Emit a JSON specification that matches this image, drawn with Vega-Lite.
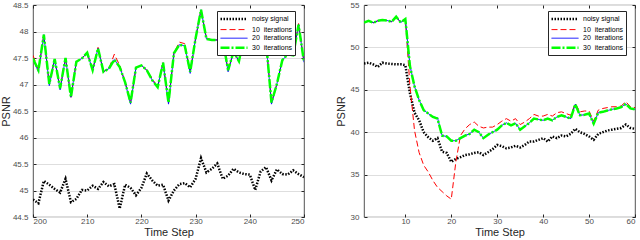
{
  "$schema": "https://vega.github.io/schema/vega-lite/v6.json",
  "padding": {"left": 0, "top": 0, "right": 0, "bottom": 0},
  "spacing": 29,
  "resolve": {
    "scale": {"color": "independent", "strokeDash": "independent", "strokeWidth": "independent"},
    "legend": {"color": "independent", "strokeDash": "independent", "strokeWidth": "independent"}
  },
  "datasets": {
    "left": [
      {"t":200,"s":"noisy signal","v":44.83},{"t":201,"s":"noisy signal","v":44.76},{"t":202,"s":"noisy signal","v":45.18},{"t":203,"s":"noisy signal","v":45.11},{"t":204,"s":"noisy signal","v":45.03},{"t":205,"s":"noisy signal","v":44.96},{"t":206,"s":"noisy signal","v":45.22},{"t":207,"s":"noisy signal","v":44.78},{"t":208,"s":"noisy signal","v":44.84},{"t":209,"s":"noisy signal","v":45.01},{"t":210,"s":"noisy signal","v":45.0},{"t":211,"s":"noisy signal","v":45.09},{"t":212,"s":"noisy signal","v":45.03},{"t":213,"s":"noisy signal","v":45.16},{"t":214,"s":"noisy signal","v":45.08},{"t":215,"s":"noisy signal","v":45.12},{"t":216,"s":"noisy signal","v":44.66},{"t":217,"s":"noisy signal","v":45.11},{"t":218,"s":"noisy signal","v":45.05},{"t":219,"s":"noisy signal","v":44.91},{"t":220,"s":"noisy signal","v":45.05},{"t":221,"s":"noisy signal","v":45.32},{"t":222,"s":"noisy signal","v":45.19},{"t":223,"s":"noisy signal","v":45.09},{"t":224,"s":"noisy signal","v":45.11},{"t":225,"s":"noisy signal","v":44.81},{"t":226,"s":"noisy signal","v":45.0},{"t":227,"s":"noisy signal","v":45.12},{"t":228,"s":"noisy signal","v":45.14},{"t":229,"s":"noisy signal","v":45.06},{"t":230,"s":"noisy signal","v":45.22},{"t":231,"s":"noisy signal","v":45.61},{"t":232,"s":"noisy signal","v":45.34},{"t":233,"s":"noisy signal","v":45.41},{"t":234,"s":"noisy signal","v":45.51},{"t":235,"s":"noisy signal","v":45.22},{"t":236,"s":"noisy signal","v":45.28},{"t":237,"s":"noisy signal","v":45.41},{"t":238,"s":"noisy signal","v":45.34},{"t":239,"s":"noisy signal","v":45.31},{"t":240,"s":"noisy signal","v":45.3},{"t":241,"s":"noisy signal","v":45.01},{"t":242,"s":"noisy signal","v":45.36},{"t":243,"s":"noisy signal","v":45.44},{"t":244,"s":"noisy signal","v":45.19},{"t":245,"s":"noisy signal","v":45.4},{"t":246,"s":"noisy signal","v":45.31},{"t":247,"s":"noisy signal","v":45.3},{"t":248,"s":"noisy signal","v":45.38},{"t":249,"s":"noisy signal","v":45.31},{"t":250,"s":"noisy signal","v":45.25},
      {"t":200,"s":"10\u00a0 iterations","v":47.55},{"t":201,"s":"10\u00a0 iterations","v":47.27},{"t":202,"s":"10\u00a0 iterations","v":47.94},{"t":203,"s":"10\u00a0 iterations","v":47.01},{"t":204,"s":"10\u00a0 iterations","v":47.48},{"t":205,"s":"10\u00a0 iterations","v":46.93},{"t":206,"s":"10\u00a0 iterations","v":47.5},{"t":207,"s":"10\u00a0 iterations","v":46.76},{"t":208,"s":"10\u00a0 iterations","v":47.43},{"t":209,"s":"10\u00a0 iterations","v":47.49},{"t":210,"s":"10\u00a0 iterations","v":47.6},{"t":211,"s":"10\u00a0 iterations","v":47.27},{"t":212,"s":"10\u00a0 iterations","v":47.7},{"t":213,"s":"10\u00a0 iterations","v":47.24},{"t":214,"s":"10\u00a0 iterations","v":47.3},{"t":215,"s":"10\u00a0 iterations","v":47.57},{"t":216,"s":"10\u00a0 iterations","v":47.36},{"t":217,"s":"10\u00a0 iterations","v":47.04},{"t":218,"s":"10\u00a0 iterations","v":46.66},{"t":219,"s":"10\u00a0 iterations","v":47.32},{"t":220,"s":"10\u00a0 iterations","v":47.36},{"t":221,"s":"10\u00a0 iterations","v":47.27},{"t":222,"s":"10\u00a0 iterations","v":47.11},{"t":223,"s":"10\u00a0 iterations","v":46.95},{"t":224,"s":"10\u00a0 iterations","v":47.41},{"t":225,"s":"10\u00a0 iterations","v":46.66},{"t":226,"s":"10\u00a0 iterations","v":47.59},{"t":227,"s":"10\u00a0 iterations","v":47.8},{"t":228,"s":"10\u00a0 iterations","v":47.77},{"t":229,"s":"10\u00a0 iterations","v":47.24},{"t":230,"s":"10\u00a0 iterations","v":47.87},{"t":231,"s":"10\u00a0 iterations","v":48.41},{"t":232,"s":"10\u00a0 iterations","v":47.88},{"t":233,"s":"10\u00a0 iterations","v":47.84},{"t":234,"s":"10\u00a0 iterations","v":47.84},{"t":235,"s":"10\u00a0 iterations","v":47.85},{"t":236,"s":"10\u00a0 iterations","v":47.27},{"t":237,"s":"10\u00a0 iterations","v":47.62},{"t":238,"s":"10\u00a0 iterations","v":47.44},{"t":239,"s":"10\u00a0 iterations","v":47.95},{"t":240,"s":"10\u00a0 iterations","v":48.0},{"t":241,"s":"10\u00a0 iterations","v":47.9},{"t":242,"s":"10\u00a0 iterations","v":48.05},{"t":243,"s":"10\u00a0 iterations","v":47.8},{"t":244,"s":"10\u00a0 iterations","v":46.66},{"t":245,"s":"10\u00a0 iterations","v":47.01},{"t":246,"s":"10\u00a0 iterations","v":47.46},{"t":247,"s":"10\u00a0 iterations","v":47.57},{"t":248,"s":"10\u00a0 iterations","v":47.55},{"t":249,"s":"10\u00a0 iterations","v":48.15},{"t":250,"s":"10\u00a0 iterations","v":47.42},
      {"t":200,"s":"20\u00a0 iterations","v":47.49},{"t":201,"s":"20\u00a0 iterations","v":47.24},{"t":202,"s":"20\u00a0 iterations","v":47.94},{"t":203,"s":"20\u00a0 iterations","v":46.98},{"t":204,"s":"20\u00a0 iterations","v":47.48},{"t":205,"s":"20\u00a0 iterations","v":46.9},{"t":206,"s":"20\u00a0 iterations","v":47.5},{"t":207,"s":"20\u00a0 iterations","v":46.76},{"t":208,"s":"20\u00a0 iterations","v":47.43},{"t":209,"s":"20\u00a0 iterations","v":47.49},{"t":210,"s":"20\u00a0 iterations","v":47.6},{"t":211,"s":"20\u00a0 iterations","v":47.27},{"t":212,"s":"20\u00a0 iterations","v":47.68},{"t":213,"s":"20\u00a0 iterations","v":47.24},{"t":214,"s":"20\u00a0 iterations","v":47.3},{"t":215,"s":"20\u00a0 iterations","v":47.47},{"t":216,"s":"20\u00a0 iterations","v":47.33},{"t":217,"s":"20\u00a0 iterations","v":47.04},{"t":218,"s":"20\u00a0 iterations","v":46.63},{"t":219,"s":"20\u00a0 iterations","v":47.32},{"t":220,"s":"20\u00a0 iterations","v":47.36},{"t":221,"s":"20\u00a0 iterations","v":47.27},{"t":222,"s":"20\u00a0 iterations","v":47.08},{"t":223,"s":"20\u00a0 iterations","v":46.95},{"t":224,"s":"20\u00a0 iterations","v":47.41},{"t":225,"s":"20\u00a0 iterations","v":46.63},{"t":226,"s":"20\u00a0 iterations","v":47.59},{"t":227,"s":"20\u00a0 iterations","v":47.75},{"t":228,"s":"20\u00a0 iterations","v":47.73},{"t":229,"s":"20\u00a0 iterations","v":47.21},{"t":230,"s":"20\u00a0 iterations","v":47.87},{"t":231,"s":"20\u00a0 iterations","v":48.41},{"t":232,"s":"20\u00a0 iterations","v":47.86},{"t":233,"s":"20\u00a0 iterations","v":47.84},{"t":234,"s":"20\u00a0 iterations","v":47.84},{"t":235,"s":"20\u00a0 iterations","v":47.85},{"t":236,"s":"20\u00a0 iterations","v":47.24},{"t":237,"s":"20\u00a0 iterations","v":47.62},{"t":238,"s":"20\u00a0 iterations","v":47.44},{"t":239,"s":"20\u00a0 iterations","v":47.95},{"t":240,"s":"20\u00a0 iterations","v":48.0},{"t":241,"s":"20\u00a0 iterations","v":47.9},{"t":242,"s":"20\u00a0 iterations","v":48.05},{"t":243,"s":"20\u00a0 iterations","v":47.8},{"t":244,"s":"20\u00a0 iterations","v":46.63},{"t":245,"s":"20\u00a0 iterations","v":47.01},{"t":246,"s":"20\u00a0 iterations","v":47.46},{"t":247,"s":"20\u00a0 iterations","v":47.57},{"t":248,"s":"20\u00a0 iterations","v":47.55},{"t":249,"s":"20\u00a0 iterations","v":48.13},{"t":250,"s":"20\u00a0 iterations","v":47.42},
      {"t":200,"s":"30\u00a0 iterations","v":47.49},{"t":201,"s":"30\u00a0 iterations","v":47.27},{"t":202,"s":"30\u00a0 iterations","v":47.94},{"t":203,"s":"30\u00a0 iterations","v":47.01},{"t":204,"s":"30\u00a0 iterations","v":47.48},{"t":205,"s":"30\u00a0 iterations","v":46.93},{"t":206,"s":"30\u00a0 iterations","v":47.5},{"t":207,"s":"30\u00a0 iterations","v":46.76},{"t":208,"s":"30\u00a0 iterations","v":47.43},{"t":209,"s":"30\u00a0 iterations","v":47.49},{"t":210,"s":"30\u00a0 iterations","v":47.6},{"t":211,"s":"30\u00a0 iterations","v":47.27},{"t":212,"s":"30\u00a0 iterations","v":47.68},{"t":213,"s":"30\u00a0 iterations","v":47.24},{"t":214,"s":"30\u00a0 iterations","v":47.3},{"t":215,"s":"30\u00a0 iterations","v":47.47},{"t":216,"s":"30\u00a0 iterations","v":47.33},{"t":217,"s":"30\u00a0 iterations","v":47.04},{"t":218,"s":"30\u00a0 iterations","v":46.66},{"t":219,"s":"30\u00a0 iterations","v":47.32},{"t":220,"s":"30\u00a0 iterations","v":47.36},{"t":221,"s":"30\u00a0 iterations","v":47.27},{"t":222,"s":"30\u00a0 iterations","v":47.08},{"t":223,"s":"30\u00a0 iterations","v":46.95},{"t":224,"s":"30\u00a0 iterations","v":47.41},{"t":225,"s":"30\u00a0 iterations","v":46.66},{"t":226,"s":"30\u00a0 iterations","v":47.59},{"t":227,"s":"30\u00a0 iterations","v":47.75},{"t":228,"s":"30\u00a0 iterations","v":47.73},{"t":229,"s":"30\u00a0 iterations","v":47.24},{"t":230,"s":"30\u00a0 iterations","v":47.87},{"t":231,"s":"30\u00a0 iterations","v":48.41},{"t":232,"s":"30\u00a0 iterations","v":47.86},{"t":233,"s":"30\u00a0 iterations","v":47.84},{"t":234,"s":"30\u00a0 iterations","v":47.84},{"t":235,"s":"30\u00a0 iterations","v":47.85},{"t":236,"s":"30\u00a0 iterations","v":47.27},{"t":237,"s":"30\u00a0 iterations","v":47.62},{"t":238,"s":"30\u00a0 iterations","v":47.44},{"t":239,"s":"30\u00a0 iterations","v":47.95},{"t":240,"s":"30\u00a0 iterations","v":48.0},{"t":241,"s":"30\u00a0 iterations","v":47.9},{"t":242,"s":"30\u00a0 iterations","v":48.05},{"t":243,"s":"30\u00a0 iterations","v":47.8},{"t":244,"s":"30\u00a0 iterations","v":46.66},{"t":245,"s":"30\u00a0 iterations","v":47.01},{"t":246,"s":"30\u00a0 iterations","v":47.46},{"t":247,"s":"30\u00a0 iterations","v":47.57},{"t":248,"s":"30\u00a0 iterations","v":47.55},{"t":249,"s":"30\u00a0 iterations","v":48.13},{"t":250,"s":"30\u00a0 iterations","v":47.42}
    ],
    "right": [
      {"t":1,"s":"noisy signal","v":48.1},{"t":2,"s":"noisy signal","v":48.2},{"t":3,"s":"noisy signal","v":48.0},{"t":4,"s":"noisy signal","v":47.7},{"t":5,"s":"noisy signal","v":48.2},{"t":6,"s":"noisy signal","v":48.1},{"t":7,"s":"noisy signal","v":48.05},{"t":8,"s":"noisy signal","v":48.0},{"t":9,"s":"noisy signal","v":48.0},{"t":10,"s":"noisy signal","v":47.9},{"t":11,"s":"noisy signal","v":44.6},{"t":12,"s":"noisy signal","v":42.3},{"t":13,"s":"noisy signal","v":41.4},{"t":14,"s":"noisy signal","v":40.0},{"t":15,"s":"noisy signal","v":39.4},{"t":16,"s":"noisy signal","v":39.0},{"t":17,"s":"noisy signal","v":39.3},{"t":18,"s":"noisy signal","v":37.7},{"t":19,"s":"noisy signal","v":37.56},{"t":20,"s":"noisy signal","v":36.5},{"t":21,"s":"noisy signal","v":36.85},{"t":22,"s":"noisy signal","v":37.05},{"t":23,"s":"noisy signal","v":37.3},{"t":24,"s":"noisy signal","v":37.4},{"t":25,"s":"noisy signal","v":37.56},{"t":26,"s":"noisy signal","v":37.64},{"t":27,"s":"noisy signal","v":37.3},{"t":28,"s":"noisy signal","v":37.64},{"t":29,"s":"noisy signal","v":38.0},{"t":30,"s":"noisy signal","v":38.5},{"t":31,"s":"noisy signal","v":38.35},{"t":32,"s":"noisy signal","v":38.1},{"t":33,"s":"noisy signal","v":38.2},{"t":34,"s":"noisy signal","v":38.4},{"t":35,"s":"noisy signal","v":38.2},{"t":36,"s":"noisy signal","v":38.5},{"t":37,"s":"noisy signal","v":38.9},{"t":38,"s":"noisy signal","v":38.9},{"t":39,"s":"noisy signal","v":39.1},{"t":40,"s":"noisy signal","v":39.3},{"t":41,"s":"noisy signal","v":38.9},{"t":42,"s":"noisy signal","v":39.5},{"t":43,"s":"noisy signal","v":39.3},{"t":44,"s":"noisy signal","v":39.6},{"t":45,"s":"noisy signal","v":39.5},{"t":46,"s":"noisy signal","v":39.8},{"t":47,"s":"noisy signal","v":40.4},{"t":48,"s":"noisy signal","v":40.0},{"t":49,"s":"noisy signal","v":39.8},{"t":50,"s":"noisy signal","v":39.5},{"t":51,"s":"noisy signal","v":39.1},{"t":52,"s":"noisy signal","v":39.8},{"t":53,"s":"noisy signal","v":40.0},{"t":54,"s":"noisy signal","v":40.2},{"t":55,"s":"noisy signal","v":40.3},{"t":56,"s":"noisy signal","v":40.4},{"t":57,"s":"noisy signal","v":40.5},{"t":58,"s":"noisy signal","v":40.9},{"t":59,"s":"noisy signal","v":40.5},{"t":60,"s":"noisy signal","v":40.4},
      {"t":1,"s":"10\u00a0 iterations","v":52.94},{"t":2,"s":"10\u00a0 iterations","v":53.14},{"t":3,"s":"10\u00a0 iterations","v":52.9},{"t":4,"s":"10\u00a0 iterations","v":53.14},{"t":5,"s":"10\u00a0 iterations","v":53.22},{"t":6,"s":"10\u00a0 iterations","v":53.18},{"t":7,"s":"10\u00a0 iterations","v":53.02},{"t":8,"s":"10\u00a0 iterations","v":53.61},{"t":9,"s":"10\u00a0 iterations","v":52.94},{"t":10,"s":"10\u00a0 iterations","v":53.34},{"t":11,"s":"10\u00a0 iterations","v":45.5},{"t":12,"s":"10\u00a0 iterations","v":40.2},{"t":13,"s":"10\u00a0 iterations","v":37.6},{"t":14,"s":"10\u00a0 iterations","v":36.1},{"t":15,"s":"10\u00a0 iterations","v":35.3},{"t":16,"s":"10\u00a0 iterations","v":34.3},{"t":17,"s":"10\u00a0 iterations","v":33.5},{"t":18,"s":"10\u00a0 iterations","v":33.0},{"t":19,"s":"10\u00a0 iterations","v":32.5},{"t":20,"s":"10\u00a0 iterations","v":32.1},{"t":21,"s":"10\u00a0 iterations","v":36.5},{"t":22,"s":"10\u00a0 iterations","v":39.6},{"t":23,"s":"10\u00a0 iterations","v":40.4},{"t":24,"s":"10\u00a0 iterations","v":40.9},{"t":25,"s":"10\u00a0 iterations","v":41.2},{"t":26,"s":"10\u00a0 iterations","v":40.7},{"t":27,"s":"10\u00a0 iterations","v":40.5},{"t":28,"s":"10\u00a0 iterations","v":40.6},{"t":29,"s":"10\u00a0 iterations","v":40.6},{"t":30,"s":"10\u00a0 iterations","v":40.9},{"t":31,"s":"10\u00a0 iterations","v":41.3},{"t":32,"s":"10\u00a0 iterations","v":41.6},{"t":33,"s":"10\u00a0 iterations","v":41.3},{"t":34,"s":"10\u00a0 iterations","v":41.6},{"t":35,"s":"10\u00a0 iterations","v":40.9},{"t":36,"s":"10\u00a0 iterations","v":41.2},{"t":37,"s":"10\u00a0 iterations","v":41.6},{"t":38,"s":"10\u00a0 iterations","v":42.1},{"t":39,"s":"10\u00a0 iterations","v":41.9},{"t":40,"s":"10\u00a0 iterations","v":41.9},{"t":41,"s":"10\u00a0 iterations","v":42.1},{"t":42,"s":"10\u00a0 iterations","v":41.9},{"t":43,"s":"10\u00a0 iterations","v":42.3},{"t":44,"s":"10\u00a0 iterations","v":42.4},{"t":45,"s":"10\u00a0 iterations","v":42.2},{"t":46,"s":"10\u00a0 iterations","v":42.0},{"t":47,"s":"10\u00a0 iterations","v":43.4},{"t":48,"s":"10\u00a0 iterations","v":42.4},{"t":49,"s":"10\u00a0 iterations","v":42.5},{"t":50,"s":"10\u00a0 iterations","v":42.5},{"t":51,"s":"10\u00a0 iterations","v":41.3},{"t":52,"s":"10\u00a0 iterations","v":42.6},{"t":53,"s":"10\u00a0 iterations","v":42.8},{"t":54,"s":"10\u00a0 iterations","v":42.9},{"t":55,"s":"10\u00a0 iterations","v":43.0},{"t":56,"s":"10\u00a0 iterations","v":43.0},{"t":57,"s":"10\u00a0 iterations","v":43.1},{"t":58,"s":"10\u00a0 iterations","v":43.6},{"t":59,"s":"10\u00a0 iterations","v":43.0},{"t":60,"s":"10\u00a0 iterations","v":42.9},
      {"t":1,"s":"20\u00a0 iterations","v":52.94},{"t":2,"s":"20\u00a0 iterations","v":53.14},{"t":3,"s":"20\u00a0 iterations","v":52.9},{"t":4,"s":"20\u00a0 iterations","v":53.14},{"t":5,"s":"20\u00a0 iterations","v":53.22},{"t":6,"s":"20\u00a0 iterations","v":53.18},{"t":7,"s":"20\u00a0 iterations","v":53.02},{"t":8,"s":"20\u00a0 iterations","v":53.61},{"t":9,"s":"20\u00a0 iterations","v":52.94},{"t":10,"s":"20\u00a0 iterations","v":53.34},{"t":11,"s":"20\u00a0 iterations","v":47.9},{"t":12,"s":"20\u00a0 iterations","v":45.4},{"t":13,"s":"20\u00a0 iterations","v":43.8},{"t":14,"s":"20\u00a0 iterations","v":42.6},{"t":15,"s":"20\u00a0 iterations","v":42.2},{"t":16,"s":"20\u00a0 iterations","v":41.8},{"t":17,"s":"20\u00a0 iterations","v":41.7},{"t":18,"s":"20\u00a0 iterations","v":39.6},{"t":19,"s":"20\u00a0 iterations","v":39.5},{"t":20,"s":"20\u00a0 iterations","v":39.0},{"t":21,"s":"20\u00a0 iterations","v":39.0},{"t":22,"s":"20\u00a0 iterations","v":39.3},{"t":23,"s":"20\u00a0 iterations","v":39.6},{"t":24,"s":"20\u00a0 iterations","v":39.8},{"t":25,"s":"20\u00a0 iterations","v":40.3},{"t":26,"s":"20\u00a0 iterations","v":40.0},{"t":27,"s":"20\u00a0 iterations","v":39.3},{"t":28,"s":"20\u00a0 iterations","v":39.7},{"t":29,"s":"20\u00a0 iterations","v":40.0},{"t":30,"s":"20\u00a0 iterations","v":40.3},{"t":31,"s":"20\u00a0 iterations","v":40.8},{"t":32,"s":"20\u00a0 iterations","v":41.1},{"t":33,"s":"20\u00a0 iterations","v":40.8},{"t":34,"s":"20\u00a0 iterations","v":41.06},{"t":35,"s":"20\u00a0 iterations","v":40.3},{"t":36,"s":"20\u00a0 iterations","v":40.7},{"t":37,"s":"20\u00a0 iterations","v":41.1},{"t":38,"s":"20\u00a0 iterations","v":41.6},{"t":39,"s":"20\u00a0 iterations","v":41.5},{"t":40,"s":"20\u00a0 iterations","v":41.4},{"t":41,"s":"20\u00a0 iterations","v":41.6},{"t":42,"s":"20\u00a0 iterations","v":41.4},{"t":43,"s":"20\u00a0 iterations","v":41.8},{"t":44,"s":"20\u00a0 iterations","v":42.0},{"t":45,"s":"20\u00a0 iterations","v":41.8},{"t":46,"s":"20\u00a0 iterations","v":41.6},{"t":47,"s":"20\u00a0 iterations","v":43.3},{"t":48,"s":"20\u00a0 iterations","v":42.0},{"t":49,"s":"20\u00a0 iterations","v":42.05},{"t":50,"s":"20\u00a0 iterations","v":42.2},{"t":51,"s":"20\u00a0 iterations","v":41.0},{"t":52,"s":"20\u00a0 iterations","v":42.3},{"t":53,"s":"20\u00a0 iterations","v":42.4},{"t":54,"s":"20\u00a0 iterations","v":42.55},{"t":55,"s":"20\u00a0 iterations","v":42.7},{"t":56,"s":"20\u00a0 iterations","v":42.8},{"t":57,"s":"20\u00a0 iterations","v":42.95},{"t":58,"s":"20\u00a0 iterations","v":43.35},{"t":59,"s":"20\u00a0 iterations","v":42.8},{"t":60,"s":"20\u00a0 iterations","v":42.7},
      {"t":1,"s":"30\u00a0 iterations","v":52.94},{"t":2,"s":"30\u00a0 iterations","v":53.14},{"t":3,"s":"30\u00a0 iterations","v":52.9},{"t":4,"s":"30\u00a0 iterations","v":53.14},{"t":5,"s":"30\u00a0 iterations","v":53.22},{"t":6,"s":"30\u00a0 iterations","v":53.18},{"t":7,"s":"30\u00a0 iterations","v":53.02},{"t":8,"s":"30\u00a0 iterations","v":53.61},{"t":9,"s":"30\u00a0 iterations","v":52.94},{"t":10,"s":"30\u00a0 iterations","v":53.34},{"t":11,"s":"30\u00a0 iterations","v":47.8},{"t":12,"s":"30\u00a0 iterations","v":45.4},{"t":13,"s":"30\u00a0 iterations","v":43.8},{"t":14,"s":"30\u00a0 iterations","v":42.6},{"t":15,"s":"30\u00a0 iterations","v":42.2},{"t":16,"s":"30\u00a0 iterations","v":41.8},{"t":17,"s":"30\u00a0 iterations","v":41.6},{"t":18,"s":"30\u00a0 iterations","v":39.6},{"t":19,"s":"30\u00a0 iterations","v":39.5},{"t":20,"s":"30\u00a0 iterations","v":39.0},{"t":21,"s":"30\u00a0 iterations","v":39.0},{"t":22,"s":"30\u00a0 iterations","v":39.3},{"t":23,"s":"30\u00a0 iterations","v":39.6},{"t":24,"s":"30\u00a0 iterations","v":39.8},{"t":25,"s":"30\u00a0 iterations","v":40.3},{"t":26,"s":"30\u00a0 iterations","v":40.0},{"t":27,"s":"30\u00a0 iterations","v":39.3},{"t":28,"s":"30\u00a0 iterations","v":39.7},{"t":29,"s":"30\u00a0 iterations","v":40.0},{"t":30,"s":"30\u00a0 iterations","v":40.3},{"t":31,"s":"30\u00a0 iterations","v":40.8},{"t":32,"s":"30\u00a0 iterations","v":41.1},{"t":33,"s":"30\u00a0 iterations","v":40.8},{"t":34,"s":"30\u00a0 iterations","v":41.06},{"t":35,"s":"30\u00a0 iterations","v":40.3},{"t":36,"s":"30\u00a0 iterations","v":40.7},{"t":37,"s":"30\u00a0 iterations","v":41.1},{"t":38,"s":"30\u00a0 iterations","v":41.6},{"t":39,"s":"30\u00a0 iterations","v":41.5},{"t":40,"s":"30\u00a0 iterations","v":41.4},{"t":41,"s":"30\u00a0 iterations","v":41.6},{"t":42,"s":"30\u00a0 iterations","v":41.4},{"t":43,"s":"30\u00a0 iterations","v":41.8},{"t":44,"s":"30\u00a0 iterations","v":42.0},{"t":45,"s":"30\u00a0 iterations","v":41.8},{"t":46,"s":"30\u00a0 iterations","v":41.6},{"t":47,"s":"30\u00a0 iterations","v":43.3},{"t":48,"s":"30\u00a0 iterations","v":42.0},{"t":49,"s":"30\u00a0 iterations","v":42.05},{"t":50,"s":"30\u00a0 iterations","v":42.2},{"t":51,"s":"30\u00a0 iterations","v":41.0},{"t":52,"s":"30\u00a0 iterations","v":42.3},{"t":53,"s":"30\u00a0 iterations","v":42.4},{"t":54,"s":"30\u00a0 iterations","v":42.55},{"t":55,"s":"30\u00a0 iterations","v":42.7},{"t":56,"s":"30\u00a0 iterations","v":42.8},{"t":57,"s":"30\u00a0 iterations","v":42.95},{"t":58,"s":"30\u00a0 iterations","v":43.35},{"t":59,"s":"30\u00a0 iterations","v":42.8},{"t":60,"s":"30\u00a0 iterations","v":42.7}
    ]
  },
  "hconcat": [
    {
      "width": 271, "height": 212,
      "data": {"name": "left"},
      "layer": [
        {
          "mark": {"type": "line", "clip": true},
          "encoding": {
            "x": {"field": "t", "type": "quantitative", "scale": {"domain": [200, 250], "nice": false},
                  "axis": {"orient": "bottom", "values": [200, 210, 220, 230, 240, 250], "grid": false, "title": "Time Step"}},
            "y": {"field": "v", "type": "quantitative", "scale": {"domain": [44.5, 48.5], "nice": false, "zero": false},
                  "axis": {"orient": "left", "values": [44.5, 45, 45.5, 46, 46.5, 47, 47.5, 48, 48.5], "labelExpr": "'' + datum.value", "grid": true, "title": "PSNR"}},
            "color": {"field": "s", "type": "nominal",
                      "scale": {"domain": ["noisy signal", "10\u00a0 iterations", "20\u00a0 iterations", "30\u00a0 iterations"], "range": ["#000000", "#ff0000", "#0000ff", "#00ff00"]},
                      "legend": {"orient": "none", "legendX": 184, "legendY": 6, "title": null}},
            "strokeDash": {"field": "s", "type": "nominal",
                      "scale": {"domain": ["noisy signal", "10\u00a0 iterations", "20\u00a0 iterations", "30\u00a0 iterations"], "range": [[1.5, 1.5], [6, 3], [1, 0], [9, 2, 2, 2]]},
                      "legend": {"orient": "none", "legendX": 184, "legendY": 6, "title": null}},
            "strokeWidth": {"field": "s", "type": "nominal",
                      "scale": {"type": "ordinal", "domain": ["noisy signal", "10\u00a0 iterations", "20\u00a0 iterations", "30\u00a0 iterations"], "range": [2.5, 1, 1, 2.5]},
                      "legend": {"orient": "none", "legendX": 184, "legendY": 6, "title": null}}
          }
        },
        {
          "mark": {"type": "line", "opacity": 0},
          "encoding": {
            "x": {"field": "t", "type": "quantitative", "axis": {"orient": "top", "values": [200, 210, 220, 230, 240, 250], "labels": false, "grid": false, "title": null, "minExtent": 0, "maxExtent": 0}},
            "y": {"field": "v", "type": "quantitative", "axis": {"orient": "right", "values": [44.5, 45, 45.5, 46, 46.5, 47, 47.5, 48, 48.5], "labels": false, "grid": false, "title": null, "minExtent": 0, "maxExtent": 0}}
          }
        }
      ],
      "resolve": {"axis": {"x": "independent", "y": "independent"}}
    },
    {
      "width": 271, "height": 212,
      "data": {"name": "right"},
      "layer": [
        {
          "mark": {"type": "line", "clip": true},
          "encoding": {
            "x": {"field": "t", "type": "quantitative", "scale": {"domain": [1, 60], "nice": false},
                  "axis": {"orient": "bottom", "values": [10, 20, 30, 40, 50, 60], "grid": false, "title": "Time Step"}},
            "y": {"field": "v", "type": "quantitative", "scale": {"domain": [30, 55], "nice": false, "zero": false},
                  "axis": {"orient": "left", "values": [30, 35, 40, 45, 50, 55], "grid": true, "title": "PSNR", "titlePadding": 4}},
            "color": {"field": "s", "type": "nominal",
                      "scale": {"domain": ["noisy signal", "10\u00a0 iterations", "20\u00a0 iterations", "30\u00a0 iterations"], "range": ["#000000", "#ff0000", "#0000ff", "#00ff00"]},
                      "legend": {"orient": "none", "legendX": 184, "legendY": 6, "title": null}},
            "strokeDash": {"field": "s", "type": "nominal",
                      "scale": {"domain": ["noisy signal", "10\u00a0 iterations", "20\u00a0 iterations", "30\u00a0 iterations"], "range": [[1.5, 1.5], [6, 3], [1, 0], [9, 2, 2, 2]]},
                      "legend": {"orient": "none", "legendX": 184, "legendY": 6, "title": null}},
            "strokeWidth": {"field": "s", "type": "nominal",
                      "scale": {"type": "ordinal", "domain": ["noisy signal", "10\u00a0 iterations", "20\u00a0 iterations", "30\u00a0 iterations"], "range": [2.5, 1, 1, 2.5]},
                      "legend": {"orient": "none", "legendX": 184, "legendY": 6, "title": null}}
          }
        },
        {
          "mark": {"type": "line", "opacity": 0},
          "encoding": {
            "x": {"field": "t", "type": "quantitative", "axis": {"orient": "top", "values": [10, 20, 30, 40, 50, 60], "labels": false, "grid": false, "title": null, "minExtent": 0, "maxExtent": 0}},
            "y": {"field": "v", "type": "quantitative", "axis": {"orient": "right", "values": [30, 35, 40, 45, 50, 55], "labels": false, "grid": false, "title": null, "minExtent": 0, "maxExtent": 0}}
          }
        }
      ],
      "resolve": {"axis": {"x": "independent", "y": "independent"}}
    }
  ],
  "config": {
    "font": "Liberation Sans",
    "view": {"stroke": "#262626", "strokeWidth": 0.8},
    "axis": {
      "labelFont": "Liberation Sans", "titleFont": "Liberation Sans",
      "labelFontSize": 8, "titleFontSize": 11, "titleFontWeight": "normal",
      "labelColor": "#4d4d4d", "titleColor": "#262626",
      "tickColor": "#262626", "tickSize": -3, "domain": false,
      "gridColor": "#dedede", "gridWidth": 1,
      "labelPadding": 8, "titlePadding": 1, "minExtent": 0
    },
    "axisX": {"labelPadding": 3, "titlePadding": 1},
    "legend": {
      "fillColor": "#ffffff", "strokeColor": "#262626", "padding": 2,
      "labelFont": "Liberation Sans", "labelFontSize": 7, "labelColor": "#000000",
      "symbolType": "M-1,0H5", "symbolSize": 81, "rowPadding": 0.6, "labelOffset": 21,
      "symbolStrokeColor": "#000000"
    },
    "line": {"strokeJoin": "miter", "strokeCap": "butt"}
  }
}
